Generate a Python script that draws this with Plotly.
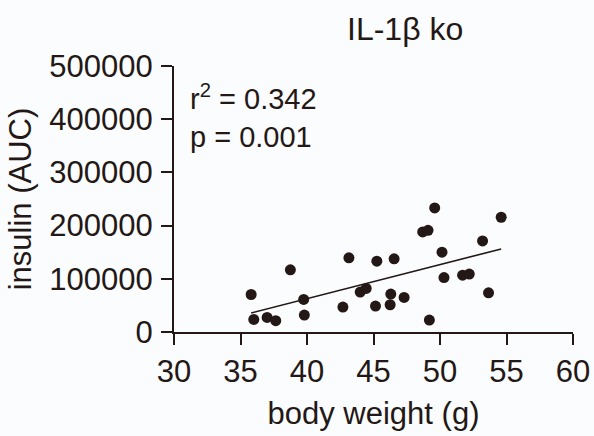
import numpy as np
import plotly.graph_objects as go

body_weight = [35.8, 36.0, 37.0, 37.65, 38.75, 39.75, 39.8, 42.7, 43.15, 44.0,
               44.45, 45.15, 45.25, 46.3, 46.25, 46.55, 47.3, 48.7, 49.1, 49.2,
               49.6, 50.15, 50.3, 51.7, 52.2, 53.2, 53.65, 54.6]
insulin_auc = [70500, 23600, 27400, 21200, 116800, 61200, 31900, 46900, 139400, 75000,
               81800, 48700, 133100, 71300, 51200, 137500, 64900, 188200, 191200, 22500,
               233200, 150000, 102400, 106900, 108800, 171200, 73700, 215700]
x_ticks = [30, 35, 40, 45, 50, 55, 60]
y_ticks = [0, 100000, 200000, 300000, 400000, 500000]
title_text = "IL-1β ko"
stats_text = "r<sup>2</sup> = 0.342<br>p = 0.001"

x = np.array(body_weight)
y = np.array(insulin_auc)
slope, intercept = np.polyfit(x, y, 1)
fit_x = np.array([x.min(), x.max()])
fit_y = slope * fit_x + intercept

ink = "#231815"
bg = "#fbfcfe"
font = "Liberation Sans, Arial, Helvetica, sans-serif"

fig = go.Figure()
fig.add_trace(go.Scatter(x=fit_x, y=fit_y, mode="lines",
                         line=dict(color=ink, width=1.6), hoverinfo="skip"))
fig.add_trace(go.Scatter(x=body_weight, y=insulin_auc, mode="markers",
                         marker=dict(color=ink, size=11, line=dict(width=0)),
                         cliponaxis=False))

fig.update_layout(
    width=594, height=436,
    margin=dict(l=174, r=21, t=66, b=104, autoexpand=False),
    paper_bgcolor=bg, plot_bgcolor=bg,
    showlegend=False,
    font=dict(family=font, color=ink, size=30),
    xaxis=dict(range=[30, 60], tickvals=x_ticks, ticktext=[str(v) for v in x_ticks],
               showgrid=False, zeroline=False, showline=True, linecolor=ink, linewidth=2,
               ticks="outside", ticklen=11, tickwidth=2, tickcolor=ink,
               tickfont=dict(size=31), ticklabelstandoff=0, automargin=False,
               title=dict(text="body weight (g)", font=dict(size=31), standoff=14)),
    yaxis=dict(range=[0, 500000], tickvals=y_ticks, ticktext=[str(v) for v in y_ticks],
               showgrid=False, zeroline=False, showline=True, linecolor=ink, linewidth=2,
               ticks="outside", ticklen=11, tickwidth=2, tickcolor=ink,
               tickfont=dict(size=31), ticklabelstandoff=2, automargin=False,
               title=dict(text="insulin (AUC)", font=dict(size=31), standoff=8)),
    annotations=[
        dict(text=title_text, xref="paper", yref="paper", x=0.58, y=1.0, yshift=37,
             showarrow=False, xanchor="center", yanchor="middle",
             font=dict(size=32, color=ink)),
        dict(text=stats_text, xref="paper", yref="paper", x=0.035, y=0.96,
             showarrow=False, xanchor="left", yanchor="top", align="left",
             font=dict(size=29, color=ink)),
    ],
)

fig.write_html(
    "out.html",
    config={"displayModeBar": False},
    post_script="document.body.style.margin='0';document.body.style.background='" + bg + "';",
)
